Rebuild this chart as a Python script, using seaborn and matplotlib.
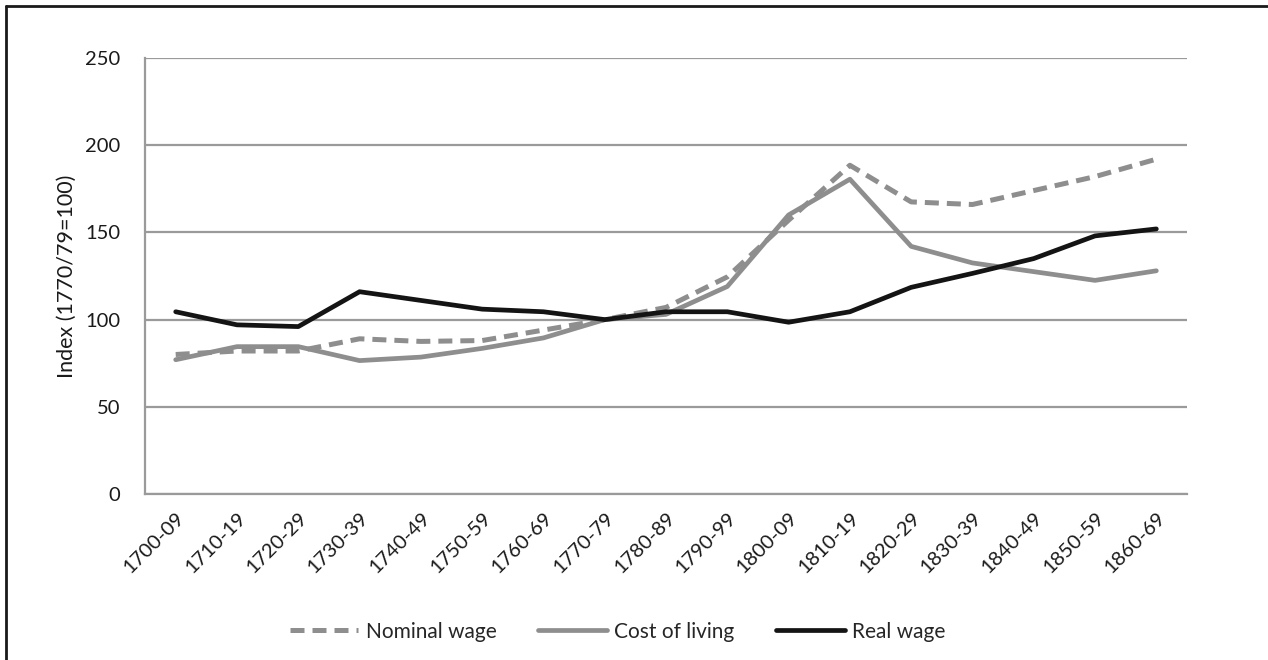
import matplotlib
matplotlib.use("Agg")
import matplotlib.pyplot as plt
from matplotlib.lines import Line2D
import seaborn as sns
import pandas as pd

periods = ["1700-09", "1710-19", "1720-29", "1730-39", "1740-49", "1750-59",
           "1760-69", "1770-79", "1780-89", "1790-99", "1800-09", "1810-19",
           "1820-29", "1830-39", "1840-49", "1850-59", "1860-69"]
nominal_wage = [80, 82, 82, 89, 87.5, 88, 94, 100, 107, 124.5, 157, 188.5, 167.5, 166, 174, 182, 192]
cost_of_living = [77, 84.5, 84.5, 76.5, 78.5, 83.5, 89.5, 100, 103, 119, 160, 180.5, 142, 132.5, 127.5, 122.5, 128]
real_wage = [104.5, 97, 96, 116, 111, 106, 104.5, 100, 104.5, 104.5, 98.5, 104.5, 118.5, 126.5, 135, 148, 152]
y_ticks = [0, 50, 100, 150, 200, 250]

sns.set_theme(style="white")
plt.rcParams["font.family"] = ["Lato", "DejaVu Sans"]

df = pd.DataFrame({"period": periods, "Nominal wage": nominal_wage,
                   "Cost of living": cost_of_living, "Real wage": real_wage})

fig = plt.figure(figsize=(12.68, 6.6), dpi=100)
ax = fig.add_axes([0.1144, 0.2515, 0.8217, 0.6606])

sns.lineplot(data=df, x="period", y="Nominal wage", ax=ax, color="#8e8e8e",
             linewidth=3.6, linestyle=(0, (2.8, 1.6)), label="Nominal wage", sort=False)
sns.lineplot(data=df, x="period", y="Cost of living", ax=ax, color="#8e8e8e",
             linewidth=3.4, label="Cost of living", sort=False)
sns.lineplot(data=df, x="period", y="Real wage", ax=ax, color="#141414",
             linewidth=3.4, label="Real wage", sort=False)

ax.set_xlim(-0.5, len(periods) - 0.5)
ax.set_ylim(0, 250)
ax.set_yticks(y_ticks)
ax.yaxis.grid(True, color="#9a9a9a", linewidth=1.6)
ax.set_axisbelow(True)
for s in ["top", "right"]:
    ax.spines[s].set_visible(False)
for s in ["left", "bottom"]:
    ax.spines[s].set_color("#9a9a9a")
    ax.spines[s].set_linewidth(1.6)

ax.tick_params(axis="both", length=0, labelsize=14.5, colors="#1a1a1a")
ax.tick_params(axis="y", pad=18)
ax.tick_params(axis="x", pad=11)
plt.setp(ax.get_xticklabels(), rotation=45, ha="right", rotation_mode="anchor")
ax.set_xlabel("")
ax.set_ylabel("Index (1770/79=100)", fontsize=15.5, color="#1a1a1a", labelpad=6)

ax.legend(loc="center", bbox_to_anchor=(0.487, 0.043), bbox_transform=fig.transFigure,
          ncol=3, frameon=False, fontsize=15, handlelength=3.3, handletextpad=0.35,
          columnspacing=2.0)

fig.add_artist(Line2D([0.005, 0.005], [0.0, 0.991], transform=fig.transFigure,
                      color="#1a1a1a", linewidth=2))
fig.add_artist(Line2D([0.005, 1.0], [0.991, 0.991], transform=fig.transFigure,
                      color="#1a1a1a", linewidth=2))

fig.savefig("out.png", dpi=100)
